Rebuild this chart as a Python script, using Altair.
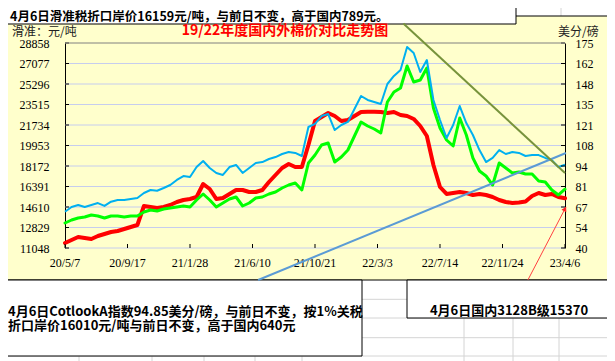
import altair as alt
import pandas as pd

# ---------------- data ----------------
dates = pd.date_range("2020-05-07", periods=77, freq="14D").strftime("%Y-%m-%d").tolist()

red_vals = [11482, 11743, 12004, 11917, 11830, 12091, 12264, 12438, 12525, 12699,
            12872, 13046, 14697, 14610, 14523, 14610, 14784, 15044, 15218, 15305,
            15479, 16608, 16174, 15305, 15392, 15740, 16087, 16087, 15913, 15913,
            16087, 16782, 17390, 17998, 18346, 18085, 18085, 19997, 22082, 22429,
            22777, 22516, 22082, 22169, 22516, 22864, 22890, 22890, 22864, 22777,
            22864, 22603, 22516, 22256, 21647, 20779, 18259, 16348, 15740, 15826,
            15913, 15826, 15653, 15740, 15653, 15479, 15218, 15044, 14958, 15001,
            15088, 15566, 15826, 15653, 15740, 15479, 15370]

green_vals = [13220, 13481, 13654, 13741, 13915, 13828, 13654, 13828, 13828, 13741,
              13828, 13828, 14176, 14349, 14263, 14436, 14523, 14610, 14697, 14610,
              15218, 15740, 15218, 14610, 14958, 15305, 15479, 14697, 14958, 15392,
              15479, 15740, 15913, 16261, 16521, 16695, 16087, 18433, 19128, 19997,
              20170, 18520, 18954, 19562, 20779, 21995, 21647, 21387, 21039, 23732,
              24601, 24949, 26860, 25470, 25644, 26686, 23211, 21474, 20431, 19910,
              22342, 20865, 18867, 17738, 17303, 16521, 18433, 17998, 17564, 17651,
              17477, 17477, 16869, 16782, 16087, 15653, 16159]

blue_vals = [63.9, 67.0, 68.3, 67.0, 68.3, 69.6, 67.7, 70.5, 71.6, 71.6,
             72.3, 72.9, 76.2, 78.2, 77.7, 79.5, 81.5, 84.8, 87.4, 86.8,
             93.3, 97.3, 92.7, 89.4, 88.1, 93.3, 94.7, 89.4, 92.7, 96.0,
             96.6, 98.6, 99.9, 101.9, 103.2, 102.6, 100.6, 119.7, 121.7, 126.9,
             128.2, 117.7, 121.0, 123.0, 131.5, 140.1, 137.5, 136.1, 134.8, 148.0,
             153.3, 157.2, 172.4, 168.4, 155.9, 163.8, 137.5, 124.3, 112.4, 121.0,
             133.5, 122.3, 114.4, 104.5, 96.6, 99.3, 104.5, 101.9, 103.2, 102.6,
             100.6, 101.2, 101.2, 99.3, 97.9, 93.3, 94.85]

left_ticks = [11048, 12829, 14610, 16391, 18172, 19953, 21734, 23515, 25296, 27077, 28858]
right_ticks = [40, 53.5, 67, 80.5, 94, 107.5, 121, 134.5, 148, 161.5, 175]
x_tick_dates = ["2020-05-07", "2020-09-17", "2021-01-28", "2021-06-10", "2021-10-21",
                "2022-03-03", "2022-07-14", "2022-11-24", "2023-04-06"]
x_tick_labels = ["20/5/7", "20/9/17", "21/1/28", "21/6/10", "21/10/21",
                 "22/3/3", "22/7/14", "22/11/24", "23/4/6"]

# annotation arrows (drawn shapes in the original), in data coordinates
blue_trend = {"d1": "2021-06-22", "v1": 8268, "d2": "2023-04-08", "v2": 19302}
green_trend = {"d1": "2022-04-27", "v1": 30550, "d2": "2023-04-06", "v2": 17564}
red_arrow = {"d1": "2023-01-17", "v1": 8268, "d2": "2023-04-08", "v2": 14610}
red_head = {"date": "2023-04-06", "v": 14450}

top_text = "4月6日滑准税折口岸价16159元/吨，与前日不变，高于国内789元。"
title_text = "19/22年度国内外棉价对比走势图"
left_unit = "滑准：元/吨"
right_unit = "美分/磅"
bottom_line1 = "4月6日CotlookA指数94.85美分/磅，与前日不变，按1%关税"
bottom_line2 = "折口岸价16010元/吨与前日不变，高于国内640元"
right_box_text = "4月6日国内3128B级15370"

# ---------------- styling ----------------
W, H = 500, 205
CJK = "Noto Sans CJK SC"
NUMF = "Liberation Serif"


def ms(s):
    return int(pd.Timestamp(s, tz="UTC").value // 10**6)


xs = alt.Scale(type="utc", domain=[ms(x_tick_dates[0]), ms(x_tick_dates[-1])])
yl = alt.Scale(domain=[left_ticks[0], left_ticks[-1]], nice=False, zero=False)
yr = alt.Scale(domain=[right_ticks[0], right_ticks[-1]], nice=False, zero=False)

x_axis = alt.Axis(values=[ms(s) for s in x_tick_dates], labels=False, ticks=False,
                  grid=False, domainColor="black", domainWidth=1, title=None)
left_axis = alt.Axis(values=left_ticks, format="d", ticks=False, grid=False,
                     domainColor="black", domainWidth=1, labelPadding=16, labelFont=NUMF,
                     labelFontSize=12, labelColor="black", title=None,
                     labelOverlap=False, orient="left")
right_axis = alt.Axis(values=right_ticks, format=".0f", ticks=False, grid=False,
                      domainColor="black", domainWidth=1, labelPadding=10, labelFont=NUMF,
                      labelFontSize=12, labelColor="black", title=None,
                      labelOverlap=False, orient="right")

one = pd.DataFrame({"a": [0]})
lines_df = pd.DataFrame({"date": dates, "red": red_vals, "green": green_vals, "blue": blue_vals})
xlab_df = pd.DataFrame({"date": x_tick_dates, "label": x_tick_labels})


def prect(x1, x2, y1, y2, fill="white", stroke=None):
    kw = dict(fill=fill)
    if stroke:
        kw.update(stroke=stroke, strokeWidth=1)
    return alt.Chart(one).mark_rect(**kw).encode(
        x=alt.value(x1), x2=alt.value(x2), y=alt.value(y1), y2=alt.value(y2))


def pframe(x1, x2, y1, y2):
    return alt.Chart(one).mark_rect(fillOpacity=0, stroke="black", strokeWidth=1).encode(
        x=alt.value(x1), x2=alt.value(x2), y=alt.value(y1), y2=alt.value(y2))


def ptext(txt, x, y, size=13, weight="bold", color="black", align="left", font=CJK):
    return alt.Chart(one).mark_text(text=txt, align=align, baseline="middle", font=font,
                                    fontSize=size, fontWeight=weight, color=color).encode(
        x=alt.value(x), y=alt.value(y))


def prule(x1, x2, y1, y2, color="#d4d4d4"):
    return alt.Chart(one).mark_rule(color=color, strokeWidth=1).encode(
        x=alt.value(x1), x2=alt.value(x2), y=alt.value(y1), y2=alt.value(y2))


X = alt.X("date:T", scale=xs, axis=None)

layers = []
# white spreadsheet regions outside the yellow chart area (coords relative to plot origin)
layers.append(prect(-70, 560, 237, 330))          # below chart
layers.append(prect(451, 560, -60, -27))          # top right cells
for yy in [256.3, 275, 294.7, 313]:
    layers.append(prule(-70, 560, yy, yy))
for xx in [14, 87, 139, 190, 237, 399, 448, 494]:
    layers.append(prule(xx, xx, 237, 330))
layers.append(prule(496, 496, -60, -27))

layers.append(pframe(-62, 548, -27, 237))                     # chart border
layers.append(prect(-66, 451, -60, -19, "white", "black"))    # top text box
layers.append(ptext(top_text, -55, -25.8, size=12.5))
layers.append(ptext(title_text, 220, -12, size=14, color="#FF0000", align="center"))
layers.append(ptext(left_unit, -53, -11, size=12, weight="normal", color="#222222"))
layers.append(ptext(right_unit, 493, -11, size=12, weight="normal", color="#222222"))
layers.append(prect(-62, 297, 237, 313, "white", "black"))    # bottom-left box
layers.append(ptext(bottom_line1, -57, 268.7))
layers.append(ptext(bottom_line2, -57, 283.2))
layers.append(prect(342, 548, 237, 275, "white", "black"))    # bottom-right box
layers.append(ptext(right_box_text, 444, 267.7, align="center"))

# plot gridlines, series, inside ticks
layers.append(alt.Chart(pd.DataFrame({"v": left_ticks[:-1]})).mark_rule(
    color="#C6CDEE", strokeWidth=1).encode(
    y=alt.Y("v:Q", scale=yl, axis=None), x=alt.value(0), x2=alt.value(W)))
layers.append(alt.Chart(lines_df).mark_line(
    color="#FF0000", strokeWidth=4, strokeJoin="round", strokeCap="round").encode(
    x=alt.X("date:T", scale=xs, axis=x_axis),
    y=alt.Y("red:Q", scale=yl, axis=left_axis)))
layers.append(alt.Chart(lines_df).mark_line(
    color="#00FF00", strokeWidth=3, strokeJoin="round", strokeCap="round").encode(
    x=X, y=alt.Y("green:Q", scale=yl, axis=None)))
layers.append(alt.Chart(lines_df).mark_line(
    color="#00B0F0", strokeWidth=2, strokeJoin="round").encode(
    x=X, y=alt.Y("blue:Q", scale=yr, axis=right_axis)))
layers.append(alt.Chart(pd.DataFrame({"v": left_ticks})).mark_rule(color="black").encode(
    y=alt.Y("v:Q", scale=yl, axis=None), x=alt.value(0), x2=alt.value(4)))
layers.append(alt.Chart(pd.DataFrame({"v": right_ticks})).mark_rule(color="black").encode(
    y=alt.Y("v:Q", scale=yr, axis=None), x=alt.value(W - 4), x2=alt.value(W)))
layers.append(alt.Chart(xlab_df).mark_rule(color="black").encode(
    x=X, y=alt.value(H - 4), y2=alt.value(H)))
layers.append(alt.Chart(xlab_df).mark_text(
    font=NUMF, fontSize=12, color="black", baseline="middle", align="center").encode(
    x=X, y=alt.value(H + 15), text="label:N"))
layers.append(prule(0, W, 0, 0, "#808080"))


def seg(d, color, width):
    df = pd.DataFrame({"d1": [d["d1"]], "d2": [d["d2"]], "v1": [d["v1"]], "v2": [d["v2"]]})
    return alt.Chart(df).mark_rule(color=color, strokeWidth=width).encode(
        x=alt.X("d1:T", scale=xs, axis=None), x2="d2:T",
        y=alt.Y("v1:Q", scale=yl, axis=None), y2="v2:Q")


layers.append(seg(blue_trend, "#5B9BD5", 2))
layers.append(seg(green_trend, "#77933C", 2))
layers.append(seg(red_arrow, "#FF4040", 1))
layers.append(alt.Chart(pd.DataFrame({"date": [red_head["date"]], "v": [red_head["v"]]})).mark_point(
    shape="triangle-up", filled=True, size=30, angle=27.5, color="#FF2020", opacity=1).encode(
    x=X, y=alt.Y("v:Q", scale=yl, axis=None)))

# total canvas 599 x 353 so the page (8px margin) never shrinks it
chart = alt.layer(*layers).resolve_scale(y="independent").properties(
    width=W, height=H,
    padding={"left": 57, "top": 35, "right": 42, "bottom": 113},
    autosize=alt.AutoSizeParams(type="none"),
    background="#FFFFCC",
).configure_view(stroke=None)

chart.save("out.html", embed_options={"renderer": "svg", "actions": False})
